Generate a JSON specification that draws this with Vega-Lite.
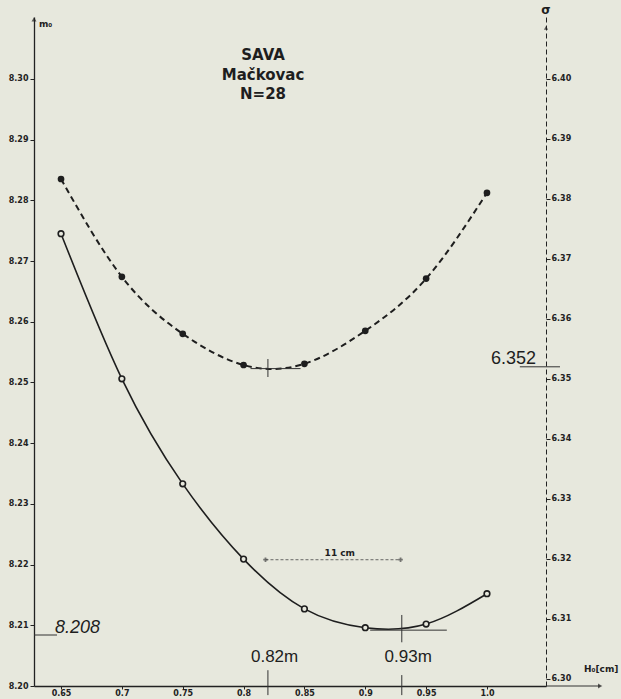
{
  "$schema": "https://vega.github.io/schema/vega-lite/v6.json",
  "width": 512,
  "height": 669,
  "autosize": {"type": "none"},
  "padding": {"left": 34, "top": 17, "right": 75, "bottom": 13},
  "background": "#e7e8dd",
  "config": {
    "view": {"stroke": null},
    "font": "DejaVu Sans",
    "axis": {
      "domainColor": "#222",
      "tickColor": "#222",
      "labelColor": "#222",
      "labelFont": "DejaVu Sans",
      "labelFontWeight": "bold",
      "labelFontSize": 8,
      "grid": false,
      "title": null,
      "tickSize": 4,
      "domainWidth": 1.3
    }
  },
  "datasets": {
    "m0": [
      {"x": 0.65, "y": 8.2745}, {"x": 0.70, "y": 8.2506}, {"x": 0.75, "y": 8.2333},
      {"x": 0.80, "y": 8.2209}, {"x": 0.85, "y": 8.2127}, {"x": 0.90, "y": 8.2096},
      {"x": 0.95, "y": 8.2102}, {"x": 1.00, "y": 8.2152}
    ],
    "sig": [
      {"x": 0.65, "y": 6.3833}, {"x": 0.70, "y": 6.3670}, {"x": 0.75, "y": 6.3575},
      {"x": 0.80, "y": 6.3523}, {"x": 0.85, "y": 6.3525}, {"x": 0.90, "y": 6.3580},
      {"x": 0.95, "y": 6.3667}, {"x": 1.00, "y": 6.3810}
    ],
    "lrules": [
      {"x": 0.6278, "x2": 0.6467, "y": 8.2084, "y2": 8.2084},
      {"x": 0.904, "x2": 0.967, "y": 8.2092, "y2": 8.2092},
      {"x": 0.93, "x2": 0.93, "y": 8.2117, "y2": 8.2072},
      {"x": 0.82, "x2": 0.82, "y": 8.2026, "y2": 8.1985},
      {"x": 0.93, "x2": 0.93, "y": 8.2018, "y2": 8.1985},
      {"x": 1.0485, "x2": 1.093, "y": 8.20, "y2": 8.20}
    ],
    "dim": [{"x": 0.818, "x2": 0.929, "y": 8.2208, "y2": 8.2208}],
    "dimEnds": [{"x": 0.818, "y": 8.2208}, {"x": 0.929, "y": 8.2208}],
    "titleText": [
      {"x": 0.816, "y": 8.3040, "t": "SAVA"},
      {"x": 0.816, "y": 8.3007, "t": "Mačkovac"},
      {"x": 0.816, "y": 8.2975, "t": "N=28"}
    ],
    "bigLeft": [{"x": 0.645, "y": 8.2096, "t": "8.208"}],
    "bigCenter": [
      {"x": 0.8255, "y": 8.2048, "t": "0.82m"},
      {"x": 0.9353, "y": 8.2048, "t": "0.93m"}
    ],
    "smallText": [
      {"x": 0.6319, "y": 8.3091, "t": "m₀"},
      {"x": 1.0797, "y": 8.2028, "t": "H₀[cm]"},
      {"x": 0.8666, "y": 8.2219, "t": "11 cm"}
    ],
    "arrowUp": [{"x": 0.6278, "y": 8.3098}],
    "arrowRight": [{"x": 1.093, "y": 8.20}],
    "rrules": [
      {"x": 1.027, "x2": 1.060, "y": 6.352, "y2": 6.352},
      {"x": 0.8057, "x2": 0.8468, "y": 6.3517, "y2": 6.3517},
      {"x": 0.82, "x2": 0.82, "y": 6.3533, "y2": 6.3503}
    ],
    "rtext": [{"x": 1.0033, "y": 6.3533, "t": "6.352"}],
    "rarrow": [{"x": 1.0485, "y": 6.4085}],
    "rlabel": [{"x": 1.0485, "y": 6.4115, "t": "σ"}]
  },
  "layer": [
    {
      "encoding": {
        "x": {
          "field": "x", "type": "quantitative",
          "scale": {"domain": [0.6278, 1.0485], "nice": false, "zero": false},
          "axis": {
            "values": [0.65, 0.7, 0.75, 0.8, 0.85, 0.9, 0.95, 1.0],
            "labelExpr": "datum.value == 1 ? '1.0' : format(datum.value, '.2~f')",
            "labelPadding": 0,
            "tickSize": 3,
            "labelFontSize": 8
          }
        },
        "y": {
          "field": "y", "type": "quantitative",
          "scale": {"domain": [8.20, 8.3102], "nice": false, "zero": false},
          "axis": {
            "orient": "left",
            "values": [8.20, 8.21, 8.22, 8.23, 8.24, 8.25, 8.26, 8.27, 8.28, 8.29, 8.30],
            "format": ".2f",
            "labelPadding": 2
          }
        }
      },
      "layer": [
        {"data": {"name": "m0"}, "mark": {"type": "line", "interpolate": "natural", "color": "#1e1e1e", "strokeWidth": 1.6}},
        {"data": {"name": "m0"}, "mark": {"type": "point", "shape": "circle", "filled": true, "fill": "#e7e8dd", "stroke": "#1e1e1e", "strokeWidth": 1.6, "size": 32, "opacity": 1}},
        {"data": {"name": "lrules"}, "mark": {"type": "rule", "color": "#333", "strokeWidth": 1}, "encoding": {"x2": {"field": "x2"}, "y2": {"field": "y2"}}},
        {"data": {"name": "dim"}, "mark": {"type": "rule", "color": "#444", "strokeWidth": 0.8, "strokeDash": [3, 2]}, "encoding": {"x2": {"field": "x2"}, "y2": {"field": "y2"}}},
        {"data": {"name": "dimEnds"}, "mark": {"type": "point", "shape": "cross", "filled": true, "color": "#444", "size": 20}},
        {"data": {"name": "titleText"}, "mark": {"type": "text", "font": "DejaVu Sans", "fontWeight": "bold", "fontSize": 15, "align": "center", "baseline": "middle", "color": "#1e1e1e"}, "encoding": {"text": {"field": "t"}}},
        {"data": {"name": "bigLeft"}, "mark": {"type": "text", "font": "Liberation Sans", "fontStyle": "italic", "fontSize": 18, "align": "left", "baseline": "middle", "color": "#1e1e1e"}, "encoding": {"text": {"field": "t"}}},
        {"data": {"name": "bigCenter"}, "mark": {"type": "text", "font": "Liberation Sans", "fontSize": 17, "align": "center", "baseline": "middle", "color": "#1e1e1e"}, "encoding": {"text": {"field": "t"}}},
        {"data": {"name": "smallText"}, "mark": {"type": "text", "font": "DejaVu Sans", "fontWeight": "bold", "fontSize": 9, "align": "left", "baseline": "middle", "color": "#1e1e1e"}, "encoding": {"text": {"field": "t"}}},
        {"data": {"name": "arrowUp"}, "mark": {"type": "point", "shape": "triangle-up", "filled": true, "color": "#222", "size": 25}},
        {"data": {"name": "arrowRight"}, "mark": {"type": "point", "shape": "triangle-right", "filled": true, "color": "#222", "size": 25}}
      ]
    },
    {
      "encoding": {
        "x": {
          "field": "x", "type": "quantitative",
          "scale": {"domain": [0.6278, 1.0485], "nice": false, "zero": false}
        },
        "y": {
          "field": "y", "type": "quantitative",
          "scale": {"domain": [6.2988, 6.4103], "nice": false, "zero": false},
          "axis": {
            "orient": "right",
            "values": [6.30, 6.31, 6.32, 6.33, 6.34, 6.35, 6.36, 6.37, 6.38, 6.39, 6.40],
            "format": ".2f",
            "domainDash": [5, 3],
            "domainWidth": 1,
            "labelPadding": 1
          }
        }
      },
      "layer": [
        {"data": {"name": "sig"}, "mark": {"type": "line", "interpolate": "natural", "color": "#1e1e1e", "strokeWidth": 2, "strokeDash": [6, 4]}},
        {"data": {"name": "sig"}, "mark": {"type": "point", "shape": "circle", "filled": true, "color": "#1e1e1e", "size": 45, "opacity": 1}},
        {"data": {"name": "rrules"}, "mark": {"type": "rule", "color": "#333", "strokeWidth": 1}, "encoding": {"x2": {"field": "x2"}, "y2": {"field": "y2"}}},
        {"data": {"name": "rtext"}, "mark": {"type": "text", "font": "Liberation Sans", "fontSize": 18, "align": "left", "baseline": "middle", "color": "#1e1e1e"}, "encoding": {"text": {"field": "t"}}},
        {"data": {"name": "rarrow"}, "mark": {"type": "point", "shape": "triangle-up", "filled": true, "color": "#222", "size": 18}},
        {"data": {"name": "rlabel"}, "mark": {"type": "text", "font": "DejaVu Sans", "fontWeight": "bold", "fontSize": 12, "align": "center", "baseline": "middle", "color": "#1e1e1e"}, "encoding": {"text": {"field": "t"}}}
      ]
    }
  ],
  "resolve": {"scale": {"y": "independent"}, "axis": {"y": "independent"}}
}
